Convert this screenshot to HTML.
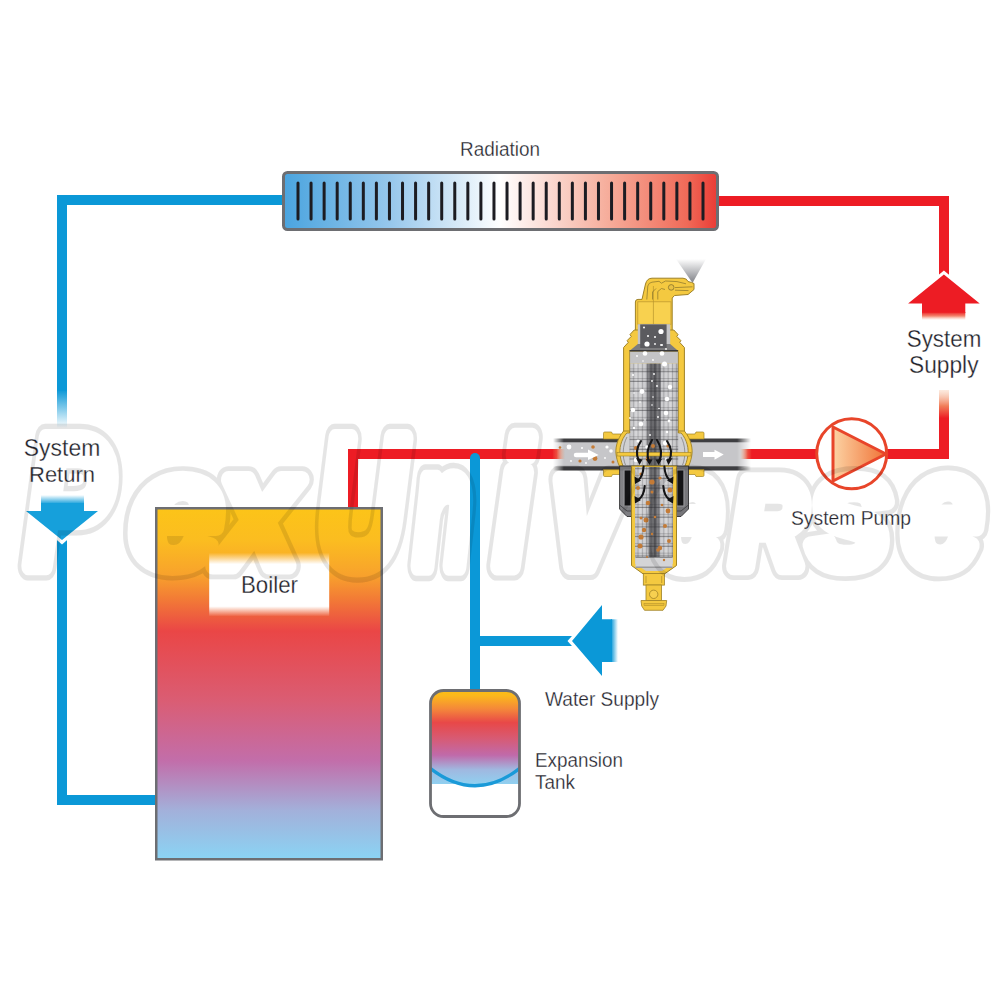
<!DOCTYPE html>
<html><head><meta charset="utf-8">
<style>
html,body{margin:0;padding:0;background:#fff;}
body{width:1000px;height:1000px;overflow:hidden;position:relative;}
svg{position:absolute;left:0;top:0;}
.lbl{font-family:"Liberation Sans",sans-serif;fill:#23232b;stroke:#ffffff;stroke-width:0.35px;stroke-opacity:0.85;}
</style></head><body>
<svg width="1000" height="1000" viewBox="0 0 1000 1000">
<defs>
  <linearGradient id="radG" x1="0" y1="0" x2="1" y2="0">
    <stop offset="0" stop-color="#4aa4df"/>
    <stop offset="0.25" stop-color="#98c8ec"/>
    <stop offset="0.5" stop-color="#ffffff"/>
    <stop offset="0.75" stop-color="#f6ac9a"/>
    <stop offset="0.93" stop-color="#f06a58"/>
    <stop offset="1" stop-color="#ea3b35"/>
  </linearGradient>
  <linearGradient id="boilG" x1="0" y1="0" x2="0" y2="1">
    <stop offset="0" stop-color="#fcc418"/>
    <stop offset="0.09" stop-color="#fbbd20"/>
    <stop offset="0.19" stop-color="#f8a22c"/>
    <stop offset="0.26" stop-color="#f27a36"/>
    <stop offset="0.35" stop-color="#ea4646"/>
    <stop offset="0.55" stop-color="#da5d74"/>
    <stop offset="0.72" stop-color="#c26eaa"/>
    <stop offset="0.86" stop-color="#a3b0da"/>
    <stop offset="1" stop-color="#8ad4f4"/>
  </linearGradient>
  <linearGradient id="tankG" x1="0" y1="0" x2="0" y2="1">
    <stop offset="0" stop-color="#fcc010"/>
    <stop offset="0.08" stop-color="#fbb81c"/>
    <stop offset="0.22" stop-color="#f4873a"/>
    <stop offset="0.36" stop-color="#e84848"/>
    <stop offset="0.52" stop-color="#d85a72"/>
    <stop offset="0.7" stop-color="#c06aaa"/>
    <stop offset="0.85" stop-color="#a0b8e0"/>
    <stop offset="1" stop-color="#90d0f0"/>
  </linearGradient>
  <linearGradient id="fadeDownBlue" x1="0" y1="0" x2="0" y2="1">
    <stop offset="0" stop-color="#0b98d7" stop-opacity="1"/>
    <stop offset="1" stop-color="#0b98d7" stop-opacity="0"/>
  </linearGradient>
  <linearGradient id="fadeUpRed" x1="0" y1="1" x2="0" y2="0">
    <stop offset="0" stop-color="#ed1c24" stop-opacity="1"/>
    <stop offset="0.12" stop-color="#ed1c24" stop-opacity="1"/>
    <stop offset="0.5" stop-color="#f07650" stop-opacity="0.95"/>
    <stop offset="1" stop-color="#f9d2b8" stop-opacity="0.45"/>
  </linearGradient>
  <linearGradient id="fadeArrowRed" x1="0" y1="0" x2="0" y2="1">
    <stop offset="0" stop-color="#ed1c24" stop-opacity="1"/>
    <stop offset="0.5" stop-color="#ef5a3c" stop-opacity="0.75"/>
    <stop offset="1" stop-color="#f7a080" stop-opacity="0"/>
  </linearGradient>
  <linearGradient id="pumpTri" x1="0" y1="0" x2="1" y2="0">
    <stop offset="0" stop-color="#fcd3a4"/>
    <stop offset="1" stop-color="#f07236"/>
  </linearGradient>
  <linearGradient id="sprayG" x1="0" y1="0" x2="0" y2="1">
    <stop offset="0" stop-color="#ffffff"/>
    <stop offset="1" stop-color="#8a8a8e"/>
  </linearGradient>
  <linearGradient id="labelFade" x1="0" y1="0" x2="0" y2="1">
    <stop offset="0" stop-color="#fff" stop-opacity="0"/>
    <stop offset="0.18" stop-color="#fff" stop-opacity="1"/>
    <stop offset="0.84" stop-color="#fff" stop-opacity="1"/>
    <stop offset="1" stop-color="#fff" stop-opacity="0"/>
  </linearGradient>
  <linearGradient id="fadeDownBlue16" x1="0" y1="0" x2="0" y2="1">
    <stop offset="0" stop-color="#16a0db" stop-opacity="1"/>
    <stop offset="1" stop-color="#16a0db" stop-opacity="0"/>
  </linearGradient>
  <linearGradient id="fadeRightBlue" x1="0" y1="0" x2="1" y2="0">
    <stop offset="0" stop-color="#0b98d7" stop-opacity="1"/>
    <stop offset="1" stop-color="#0b98d7" stop-opacity="0"/>
  </linearGradient>
</defs>

<!-- ===== PIPES ===== -->
<g id="pipes">
  <!-- blue return loop -->
  <rect x="57" y="195" width="226" height="10" fill="#0b98d7"/>
  <rect x="57" y="195" width="10" height="196" fill="#0b98d7"/>
  <rect x="57" y="390" width="10" height="38" fill="url(#fadeDownBlue)"/>
  <rect x="57" y="545" width="10" height="260" fill="#0b98d7"/>
  <rect x="57" y="795" width="100" height="10" fill="#0b98d7"/>
  <!-- red supply -->
  <rect x="718" y="196" width="231" height="10" fill="#ed1c24"/>
  <rect x="939" y="196" width="10" height="94" fill="#ed1c24"/>
  <rect x="939" y="390" width="10" height="32" fill="url(#fadeUpRed)"/>
  <rect x="939" y="421" width="10" height="38" fill="#ed1c24"/>
  <rect x="880" y="449" width="69" height="10" fill="#ed1c24"/>
  <rect x="751" y="449" width="66" height="10" fill="#ed1c24"/>
  <!-- boiler supply -->
  <rect x="348" y="449" width="205" height="10" fill="#ed1c24"/>
  <rect x="348" y="449" width="10" height="59" fill="#ed1c24"/>
  <!-- cold water branch -->
  <rect x="470" y="453" width="10" height="237" rx="5" fill="#0b98d7"/>
  <rect x="470" y="460" width="10" height="230" fill="#0b98d7"/>
  <rect x="475" y="636" width="110" height="10" fill="#0b98d7"/>
</g>

<!-- ===== RADIATOR ===== -->
<g id="radiator">
  <rect x="283.5" y="172.5" width="434" height="57" rx="4" fill="url(#radG)" stroke="#6d6e72" stroke-width="3"/>
  <g stroke="#1c1c22" stroke-width="3" stroke-linecap="round"><line x1="298.00" y1="183" x2="298.00" y2="219"/><line x1="311.06" y1="183" x2="311.06" y2="219"/><line x1="324.13" y1="183" x2="324.13" y2="219"/><line x1="337.19" y1="183" x2="337.19" y2="219"/><line x1="350.26" y1="183" x2="350.26" y2="219"/><line x1="363.32" y1="183" x2="363.32" y2="219"/><line x1="376.39" y1="183" x2="376.39" y2="219"/><line x1="389.45" y1="183" x2="389.45" y2="219"/><line x1="402.52" y1="183" x2="402.52" y2="219"/><line x1="415.58" y1="183" x2="415.58" y2="219"/><line x1="428.65" y1="183" x2="428.65" y2="219"/><line x1="441.71" y1="183" x2="441.71" y2="219"/><line x1="454.77" y1="183" x2="454.77" y2="219"/><line x1="467.84" y1="183" x2="467.84" y2="219"/><line x1="480.90" y1="183" x2="480.90" y2="219"/><line x1="493.97" y1="183" x2="493.97" y2="219"/><line x1="507.03" y1="183" x2="507.03" y2="219"/><line x1="520.10" y1="183" x2="520.10" y2="219"/><line x1="533.16" y1="183" x2="533.16" y2="219"/><line x1="546.23" y1="183" x2="546.23" y2="219"/><line x1="559.29" y1="183" x2="559.29" y2="219"/><line x1="572.35" y1="183" x2="572.35" y2="219"/><line x1="585.42" y1="183" x2="585.42" y2="219"/><line x1="598.48" y1="183" x2="598.48" y2="219"/><line x1="611.55" y1="183" x2="611.55" y2="219"/><line x1="624.61" y1="183" x2="624.61" y2="219"/><line x1="637.68" y1="183" x2="637.68" y2="219"/><line x1="650.74" y1="183" x2="650.74" y2="219"/><line x1="663.81" y1="183" x2="663.81" y2="219"/><line x1="676.87" y1="183" x2="676.87" y2="219"/><line x1="689.94" y1="183" x2="689.94" y2="219"/><line x1="703.00" y1="183" x2="703.00" y2="219"/></g>
</g>
<text class="lbl" x="460" y="155.8" font-size="20" textLength="80" lengthAdjust="spacingAndGlyphs">Radiation</text>

<!-- ===== SYSTEM RETURN ===== -->
<text class="lbl" x="23.8" y="455.5" font-size="23.2" textLength="76.5" lengthAdjust="spacingAndGlyphs">System</text>
<text class="lbl" x="29" y="481.8" font-size="22.8" textLength="66" lengthAdjust="spacingAndGlyphs">Return</text>
<g id="retArrow">
  <rect x="57" y="530" width="10" height="20" fill="#0b98d7"/>
  <polygon points="20,508 104,508 62,544.5" fill="#fff"/>
  <polygon points="41,503 84,503 84,511 98,511 62,540 26,511 41,511" fill="#16a0db"/>
  <rect x="41" y="495" width="43" height="9" fill="url(#fadeDownBlue16)" transform="rotate(180 62.5 499.5)"/>
</g>

<!-- ===== SYSTEM SUPPLY ===== -->
<polygon points="943.9,270.5 986,305.5 901.8,305.5" fill="#fff"/>
<polygon points="943.9,274.4 979.7,303.6 965.3,303.6 965.3,313 922,313 922,303.6 908.1,303.6" fill="#ed1c24"/>
<rect x="922" y="312" width="43.3" height="8" fill="url(#fadeArrowRed)"/>
<text class="lbl" x="906.8" y="346.5" font-size="23.2" textLength="74.5" lengthAdjust="spacingAndGlyphs">System</text>
<text class="lbl" x="909" y="372.8" font-size="23" textLength="69.5" lengthAdjust="spacingAndGlyphs">Supply</text>

<!-- ===== BOILER ===== -->
<rect x="156.25" y="508.25" width="225.5" height="351" fill="url(#boilG)" stroke="#6d6e72" stroke-width="2.5"/>
<rect x="209.2" y="552.7" width="120" height="63.8" fill="url(#labelFade)"/>
<text class="lbl" x="241" y="593" font-size="23.8" textLength="57" lengthAdjust="spacingAndGlyphs">Boiler</text>

<!-- ===== EXPANSION TANK ===== -->
<g id="tank">
  <clipPath id="tankClip"><rect x="430.5" y="690.5" width="88.5" height="125.5" rx="13"/></clipPath>
  <g clip-path="url(#tankClip)">
    <rect x="428" y="688" width="95" height="96" fill="url(#tankG)"/>
    <path d="M428,766.5 Q475,805 522,766.5" fill="none" stroke="#1a9ad8" stroke-width="3.2"/>
  </g>
  <rect x="430.5" y="690.5" width="89" height="126" rx="13" fill="none" stroke="#6d6e72" stroke-width="2.8"/>
</g>
<text class="lbl" x="535" y="766.8" font-size="19.5" textLength="88" lengthAdjust="spacingAndGlyphs">Expansion</text>
<text class="lbl" x="535" y="788.5" font-size="19.5" textLength="40" lengthAdjust="spacingAndGlyphs">Tank</text>

<!-- ===== WATER SUPPLY ARROW ===== -->
<polygon points="567.5,641 604,600 604,682" fill="#fff"/>
<polygon points="572,641 602,605 602,619.3 612,619.3 612,662 602,662 602,676" fill="#0b98d7"/>
<rect x="611" y="619.3" width="7" height="42.7" fill="url(#fadeRightBlue)"/>
<text class="lbl" x="545" y="705.9" font-size="19.8" textLength="114" lengthAdjust="spacingAndGlyphs">Water Supply</text>

<!-- ===== PUMP ===== -->
<circle cx="851.7" cy="453.8" r="35" fill="#fff" stroke="#e8452a" stroke-width="3"/>
<polygon points="833,427 886,454 833,481" fill="url(#pumpTri)" stroke="#e8452a" stroke-width="3" stroke-linejoin="round"/>
<text class="lbl" x="791" y="525" font-size="20.5" textLength="120" lengthAdjust="spacingAndGlyphs">System Pump</text>

<!-- ===== VALVE ===== -->
<g id="valve">
<defs>
  <linearGradient id="pipeMaskG" x1="553" y1="0" x2="751" y2="0" gradientUnits="userSpaceOnUse">
    <stop offset="0" stop-color="#fff" stop-opacity="0"/>
    <stop offset="0.055" stop-color="#fff" stop-opacity="1"/>
    <stop offset="0.93" stop-color="#fff" stop-opacity="1"/>
    <stop offset="1" stop-color="#fff" stop-opacity="0"/>
  </linearGradient>
  <mask id="pipeMask" maskUnits="userSpaceOnUse" x="540" y="420" width="230" height="70">
    <rect x="540" y="420" width="230" height="70" fill="url(#pipeMaskG)"/>
  </mask>
  <linearGradient id="redInL" x1="552" y1="0" x2="565" y2="0" gradientUnits="userSpaceOnUse">
    <stop offset="0" stop-color="#ed1c24" stop-opacity="1"/>
    <stop offset="0.35" stop-color="#ed3a2a" stop-opacity="0.9"/>
    <stop offset="1" stop-color="#e88a50" stop-opacity="0"/>
  </linearGradient>
  <linearGradient id="redInR" x1="740" y1="0" x2="752" y2="0" gradientUnits="userSpaceOnUse">
    <stop offset="0" stop-color="#e88a50" stop-opacity="0"/>
    <stop offset="0.65" stop-color="#ed3a2a" stop-opacity="0.9"/>
    <stop offset="1" stop-color="#ed1c24" stop-opacity="1"/>
  </linearGradient>
  <linearGradient id="gridG" x1="0" y1="0" x2="1" y2="0">
    <stop offset="0" stop-color="#bdbdc0"/>
    <stop offset="0.15" stop-color="#d2d2d4"/>
    <stop offset="0.35" stop-color="#c4c4c7"/>
    <stop offset="0.365" stop-color="#7a7a7e"/>
    <stop offset="0.5" stop-color="#505054"/>
    <stop offset="0.635" stop-color="#7a7a7e"/>
    <stop offset="0.65" stop-color="#c4c4c7"/>
    <stop offset="0.85" stop-color="#d2d2d4"/>
    <stop offset="1" stop-color="#b4b4b7"/>
  </linearGradient>
  <pattern id="gridV" x="629" y="0" width="4.3" height="10" patternUnits="userSpaceOnUse">
    <rect x="0" y="0" width="0.8" height="10" fill="#3c3c40" fill-opacity="0.28"/>
    <rect x="2" y="0" width="1.2" height="10" fill="#fff" fill-opacity="0.18"/>
  </pattern>
  <pattern id="gridH" x="0" y="363.5" width="10" height="9.7" patternUnits="userSpaceOnUse">
    <rect x="0" y="7.6" width="10" height="0.9" fill="#2a2a2e" fill-opacity="0.6"/>
    <rect x="0" y="5.2" width="10" height="0.7" fill="#2a2a2e" fill-opacity="0.35"/>
  </pattern>
  <linearGradient id="sprayG2" x1="0" y1="259" x2="0" y2="283" gradientUnits="userSpaceOnUse"><stop offset="0" stop-color="#fff"/><stop offset="1" stop-color="#7e8086"/></linearGradient>
  <linearGradient id="sleeveG" x1="0" y1="0" x2="1" y2="0">
    <stop offset="0" stop-color="#858589"/><stop offset="0.5" stop-color="#68686c"/><stop offset="1" stop-color="#78787c"/>
  </linearGradient>
</defs>
<g mask="url(#pipeMask)">
<rect x="553" y="438.5" width="198" height="32" fill="#3e3e41"/>
<rect x="553" y="442.3" width="198" height="24" fill="#c6c6c9"/>
</g>
<rect x="547" y="449" width="18" height="10" fill="url(#redInL)"/>
<rect x="740" y="449" width="14" height="10" fill="url(#redInR)"/>
<circle cx="569" cy="447" r="2.4" fill="#fff"/>
<circle cx="582" cy="448" r="1" fill="#fff"/>
<circle cx="593" cy="447" r="1.8" fill="#c47b36"/>
<circle cx="607" cy="447" r="1.6" fill="#fff"/>
<circle cx="611" cy="451" r="1.8" fill="#fff"/>
<circle cx="560" cy="447.5" r="1.3" fill="#c47b36"/>
<circle cx="580" cy="461" r="1.6" fill="#c47b36"/>
<circle cx="595" cy="458.5" r="2.4" fill="#c47b36"/>
<circle cx="571" cy="461" r="0.9" fill="#fff"/>
<circle cx="586" cy="463" r="0.9" fill="#fff"/>
<circle cx="613" cy="462" r="1.5" fill="#c47b36"/>
<circle cx="605" cy="458" r="0.9" fill="#fff"/>
<path d="M576,455 L590,455" stroke="#fff" stroke-width="4.5" stroke-linecap="round"/><polygon points="588,449.6 598.6,455 588,460" fill="#fff"/>
<rect x="703" y="452" width="12" height="5" fill="#fff"/><polygon points="714.5,449.8 723.7,454.5 714.5,459.7" fill="#fff"/>
<path d="M603.5,433.2 Q603.5,432 604.7,432 L611.5,432 L612.5,434 L621,434 L621,439 L603.5,439 Z" fill="#f4c940" stroke="#9f8227" stroke-width="0.7"/>
<path d="M603.5,469.5 L621,469.5 L621,474.5 L612.5,474.5 L611.5,476.5 L604.7,476.5 Q603.5,476.5 603.5,475.3 Z" fill="#f4c940" stroke="#9f8227" stroke-width="0.7"/>
<path d="M704,433.2 Q704,432 702.8,432 L696,432 L695,434 L687,434 L687,439 L704,439 Z" fill="#f4c940" stroke="#9f8227" stroke-width="0.7"/>
<path d="M704,469.5 L687,469.5 L687,474.5 L695,474.5 L696,476.5 L702.8,476.5 Q704,476.5 704,475.3 Z" fill="#f4c940" stroke="#9f8227" stroke-width="0.7"/>
<polygon points="676,259 706,259 692.5,283" fill="url(#sprayG2)"/>
<path d="M635.4,336 L635.4,302 Q635.4,299.4 638,299.4 L642,299.4 L645.5,284 Q647,278.2 652,278.2 L683,278.2 Q687,278.5 688,281.5 L691.5,282.5 L694,283.5 L694,289.5 L688,294.5 L674.5,295.5 L672.2,298 L672.2,336 Z" fill="#f4c940" stroke="#9f8227" stroke-width="1"/>
<rect x="637.8" y="301.8" width="33.2" height="22.5" fill="#f8d14f" stroke="#c09a30" stroke-width="0.8"/>
<line x1="653.4" y1="286" x2="653.4" y2="324" stroke="#b8942e" stroke-width="0.7"/>
<path d="M646.8,299.5 L647.8,286 Q648.6,282.6 652,282.2 L659,281.3 L661.5,283.2 L665.5,281 L677,281.6 L686,283.8 M657.8,299.5 L657.8,291.5 L661.5,288.5 L665,289.5 M675,287.6 L692.5,286.8 M675,290.2 L688.5,290.6 M652.5,299.5 L652.5,292 L656,288.5" fill="none" stroke="#86722c" stroke-width="0.7"/><circle cx="671.2" cy="287.4" r="2.8" fill="#e9c143" stroke="#86722c" stroke-width="0.8"/>
<path d="M634.2,330 L630,334.5 L631.2,336.5 L627.2,340.5 L628.2,342.5 L623.6,347.5 L623.6,433 L684.4,433 L684.4,347.5 L679.8,342.5 L680.8,340.5 L676.8,336.5 L678,334.5 L673.8,330 Z" fill="#f4c940" stroke="#9f8227" stroke-width="1"/>
<rect x="637.8" y="324.2" width="32.4" height="27" fill="#c4c4c6"/>
<polygon points="629.4,351 637.8,344 670.2,344 678.2,351" fill="#7c7c7e"/>
<rect x="640.2" y="324.4" width="26.4" height="23.6" fill="#5b5b5f"/>
<rect x="629.4" y="350.3" width="48.8" height="1.4" fill="#1c1c1e"/>
<rect x="629.4" y="351.7" width="48.8" height="12" fill="#c4c4c6"/>
<path d="M624.5,432 C619.5,440 618.5,450 619.5,456 C620.2,460 621.5,463 623,467 L685,467 C686.5,463 687.8,460 688.5,456 C689.5,450 688.5,440 683.5,432 Z" fill="#d0d0d2"/>
<rect x="629.6" y="363.6" width="48.6" height="103.4" fill="url(#gridG)"/>
<rect x="629.6" y="363.6" width="48.6" height="103.4" fill="url(#gridV)"/>
<rect x="629.6" y="363.6" width="48.6" height="103.4" fill="url(#gridH)"/>
<line x1="629.6" y1="352" x2="629.6" y2="433" stroke="#9f8227" stroke-width="0.8"/><line x1="678.4" y1="352" x2="678.4" y2="433" stroke="#9f8227" stroke-width="0.8"/>
<path d="M627,437 C622.5,445 622,457 625.5,465 M681,437 C685.5,445 686,457 682.5,465" fill="none" stroke="#6a6a6c" stroke-width="0.6"/>
<path d="M623.6,431 C617,439 614.8,449 616.3,456 C617.2,461 618.5,464.5 620.3,468 L624,468 C622.3,464.5 621,461 620.2,456 C619,449 620.8,440 626.8,433 L629.6,433 L629.6,431 Z" fill="#f4c940" stroke="#9f8227" stroke-width="0.9"/>
<path d="M684.4,431 C691,439 693.2,449 691.7,456 C690.8,461 689.5,464.5 687.7,468 L684,468 C685.7,464.5 687,461 687.8,456 C689,449 687.2,440 681.2,433 L678.4,433 L678.4,431 Z" fill="#f4c940" stroke="#9f8227" stroke-width="0.9"/>
<rect x="617" y="452.4" width="74" height="3.6" fill="#f4c940" stroke="#9f8227" stroke-width="0.6"/>
<path d="M619.6,466 L688.5,466 L688.5,509 L681,516.5 L627,516.5 L619.6,509 Z" fill="url(#sleeveG)" stroke="#2f2f31" stroke-width="0.9"/>
<path d="M619.6,505 L627,511 L681,511 L688.5,505" fill="none" stroke="#3a3a3c" stroke-width="0.8"/>
<rect x="623.5" y="469.5" width="8.2" height="37" fill="#9a9a9e"/><rect x="624.6" y="470.5" width="6" height="35" fill="#141416"/>
<rect x="676.3" y="469.5" width="8.2" height="37" fill="#9a9a9e"/><rect x="677.4" y="470.5" width="6" height="35" fill="#141416"/>
<path d="M631.5,466 L676.5,466 L676.5,565.5 L664.4,574 L643.3,574 L631.5,565.5 Z" fill="#f4c940" stroke="#9f8227" stroke-width="1"/>
<path d="M635,467 L673,467 L673,563.5 L662,571 L646,571 L635,563.5 Z" fill="#c8c8ca"/>
<rect x="635" y="467" width="38" height="90.5" fill="url(#gridG)"/>
<rect x="635" y="467" width="38" height="90.5" fill="url(#gridV)"/>
<rect x="635" y="467" width="38" height="90.5" fill="url(#gridH)"/>
<rect x="635.5" y="557.5" width="37" height="10" fill="#d4d4d6"/>
<rect x="635.5" y="566.5" width="37" height="1.5" fill="#9a9a9c"/>
<rect x="635.5" y="557" width="37" height="1" fill="#8a8a8c"/>
<rect x="643.3" y="573.6" width="21.1" height="11.5" fill="#f4c940" stroke="#9f8227" stroke-width="0.8"/>
<path d="M646,576 L646,583 M661.7,576 L661.7,583" stroke="#9f8227" stroke-width="0.6"/>
<rect x="646" y="585" width="15.5" height="15.5" fill="#f4c940" stroke="#9f8227" stroke-width="0.8"/>
<circle cx="653.7" cy="594.3" r="4.2" fill="#f7d050" stroke="#9f8227" stroke-width="0.8"/>
<path d="M641,600.5 L666.7,600.5 L666,606 L663,610.3 L644.5,610.3 L641.7,606 Z" fill="#f4c940" stroke="#9f8227" stroke-width="0.8"/>
<rect x="644" y="603.5" width="20" height="2.2" fill="#e8bc38" stroke="#9f8227" stroke-width="0.4"/>
<circle cx="661" cy="331.5" r="2.6" fill="#fff"/>
<circle cx="644" cy="327.5" r="1" fill="#fff"/>
<circle cx="648" cy="336" r="1" fill="#fff"/>
<circle cx="655" cy="337" r="1" fill="#fff"/>
<circle cx="647" cy="344" r="2.6" fill="#fff"/>
<circle cx="655" cy="344" r="0.9" fill="#fff"/>
<circle cx="662" cy="345" r="1" fill="#fff"/>
<circle cx="661" cy="345" r="0.9" fill="#fff"/>
<circle cx="666" cy="349" r="0.9" fill="#fff"/>
<circle cx="645" cy="353.5" r="2.3" fill="#fff"/>
<circle cx="662" cy="353.5" r="2.3" fill="#fff"/>
<circle cx="637" cy="356" r="0.9" fill="#fff"/>
<circle cx="653" cy="360" r="0.9" fill="#fff"/>
<circle cx="643" cy="361" r="0.8" fill="#fff"/>
<circle cx="664.5" cy="364" r="2.5" fill="#fff"/>
<circle cx="633" cy="375" r="1" fill="#fff"/>
<circle cx="654" cy="374" r="0.9" fill="#fff"/>
<circle cx="652" cy="381" r="0.9" fill="#fff"/>
<circle cx="657" cy="386" r="0.9" fill="#fff"/>
<circle cx="670" cy="387" r="2.2" fill="#fff"/>
<circle cx="642" cy="391.5" r="2.4" fill="#fff"/>
<circle cx="634" cy="393" r="0.8" fill="#fff"/>
<circle cx="653" cy="397" r="0.8" fill="#fff"/>
<circle cx="667" cy="399" r="2.3" fill="#fff"/>
<circle cx="640" cy="402" r="0.8" fill="#fff"/>
<circle cx="652" cy="405" r="0.8" fill="#fff"/>
<circle cx="633" cy="410" r="2.3" fill="#fff"/>
<circle cx="659" cy="408.5" r="0.8" fill="#fff"/>
<circle cx="666" cy="413" r="2.3" fill="#fff"/>
<circle cx="630" cy="418" r="0.9" fill="#fff"/>
<circle cx="645" cy="420" r="0.8" fill="#fff"/>
<circle cx="658" cy="417" r="0.9" fill="#fff"/>
<circle cx="669" cy="421" r="1.4" fill="#fff"/>
<circle cx="641" cy="424" r="2.3" fill="#fff"/>
<circle cx="634" cy="428" r="1.2" fill="#fff"/>
<circle cx="667" cy="432" r="1.2" fill="#fff"/>
<circle cx="650" cy="435" r="0.9" fill="#fff"/>
<circle cx="638" cy="441" r="1.5" fill="#fff"/>
<circle cx="647" cy="447" r="1.8" fill="#fff"/>
<circle cx="665" cy="443" r="2.2" fill="#fff"/>
<circle cx="636" cy="460" r="2.3" fill="#fff"/>
<circle cx="666" cy="459" r="1" fill="#fff"/>
<circle cx="652" cy="482" r="2.6" fill="#c47b36"/>
<circle cx="668" cy="511" r="2.4" fill="#c47b36"/>
<circle cx="641" cy="537" r="2.6" fill="#c47b36"/>
<circle cx="660" cy="548" r="2.2" fill="#c47b36"/>
<circle cx="646" cy="520" r="2.5" fill="#c47b36"/>
<circle cx="636" cy="448" r="2.1" fill="#c47b36"/>
<circle cx="653" cy="446" r="2" fill="#c47b36"/>
<circle cx="668" cy="446" r="1.6" fill="#c47b36"/>
<circle cx="648" cy="459" r="2.3" fill="#c47b36"/>
<circle cx="641" cy="474" r="1.6" fill="#c47b36"/>
<circle cx="660" cy="478" r="1.6" fill="#c47b36"/>
<circle cx="638" cy="488" r="2" fill="#c47b36"/>
<circle cx="652" cy="492" r="1.5" fill="#c47b36"/>
<circle cx="670" cy="490" r="2.5" fill="#c47b36"/>
<circle cx="648" cy="503" r="2.3" fill="#c47b36"/>
<circle cx="662" cy="505" r="1.3" fill="#c47b36"/>
<circle cx="641" cy="518" r="1.5" fill="#c47b36"/>
<circle cx="655" cy="517" r="1.3" fill="#c47b36"/>
<circle cx="665" cy="526" r="2" fill="#c47b36"/>
<circle cx="644" cy="530" r="2.2" fill="#c47b36"/>
<circle cx="652" cy="534" r="1.2" fill="#c47b36"/>
<circle cx="669" cy="541" r="2" fill="#c47b36"/>
<circle cx="640" cy="546" r="2.5" fill="#c47b36"/>
<circle cx="658" cy="550" r="1.8" fill="#c47b36"/>
<circle cx="647" cy="557" r="1" fill="#c47b36"/>
<circle cx="664" cy="560" r="1.2" fill="#c47b36"/>
<g fill="none" stroke="#141416" stroke-width="2.1" stroke-linecap="round">
<path d="M641,441 Q634,451 639,461"/><path d="M652,440 Q645,451 649,462"/><path d="M657,440 Q664,451 659,462"/><path d="M667,441 Q674,451 669,461"/>
<path d="M643.6,466.5 Q643,476 638.5,480"/><path d="M664.4,466.5 Q665,476 669.5,480"/>
<path d="M644.7,486 Q644,496 638.5,499.5"/><path d="M663.3,486 Q664,496 669.5,499.5"/>
</g>
<g fill="#141416"><polygon points="636,458 642.5,459.5 639.5,465"/><polygon points="646,459 652.5,459.5 649.5,465"/><polygon points="655.5,459.5 662,459 658.5,465"/><polygon points="666,459.5 672.5,458 668.5,465"/><polygon points="634.5,476.5 641,480.5 635,484"/><polygon points="667,480.5 673.5,476.5 673,484"/><polygon points="634.5,496 641,500 635,503.5"/><polygon points="667,500 673.5,496 673,503.5"/></g>
</g>

<!-- ===== WATERMARK ===== -->
<defs>
<mask id="wmMask" maskUnits="userSpaceOnUse" x="0" y="380" width="1000" height="240">
  <g font-family="Liberation Sans" font-weight="bold" font-style="italic" stroke-linejoin="round">
<text transform="translate(25.5,565.5) scale(0.699,1)" font-size="186.0" fill="#fff" stroke="#fff" stroke-width="25.0" vector-effect="non-scaling-stroke">P</text>
<text transform="translate(130.5,565.5) scale(1.011,1)" font-size="163.8" fill="#fff" stroke="#fff" stroke-width="25.0" vector-effect="non-scaling-stroke">e</text>
<text transform="translate(218.8,565.5) scale(0.865,1)" font-size="163.8" fill="#fff" stroke="#fff" stroke-width="25.0" vector-effect="non-scaling-stroke">x</text>
<text transform="translate(317.5,565.5) scale(0.651,1)" font-size="186.0" fill="#fff" stroke="#fff" stroke-width="25.0" vector-effect="non-scaling-stroke">U</text>
<text transform="translate(414.5,565.5) scale(0.570,1)" font-size="163.8" fill="#fff" stroke="#fff" stroke-width="25.0" vector-effect="non-scaling-stroke">n</text>
<text transform="translate(494.5,565.5) scale(0.720,1)" font-size="178.8" fill="#fff" stroke="#fff" stroke-width="25.0" vector-effect="non-scaling-stroke">i</text>
<text transform="translate(552.5,565.5) scale(0.759,1)" font-size="163.8" fill="#fff" stroke="#fff" stroke-width="25.0" vector-effect="non-scaling-stroke">v</text>
<text transform="translate(652.5,565.5) scale(0.769,1)" font-size="163.8" fill="#fff" stroke="#fff" stroke-width="25.0" vector-effect="non-scaling-stroke">e</text>
<text transform="translate(731.5,565.5) scale(0.829,1)" font-size="123.5" fill="#fff" stroke="#fff" stroke-width="25.0" vector-effect="non-scaling-stroke">R</text>
<text transform="translate(808.5,565.5) scale(0.923,1)" font-size="163.8" fill="#fff" stroke="#fff" stroke-width="25.0" vector-effect="non-scaling-stroke">s</text>
<text transform="translate(902.5,565.5) scale(0.879,1)" font-size="163.8" fill="#fff" stroke="#fff" stroke-width="25.0" vector-effect="non-scaling-stroke">e</text>
<text transform="translate(25.5,565.5) scale(0.699,1)" font-size="186.0" fill="#000" stroke="#000" stroke-width="16.0" vector-effect="non-scaling-stroke">P</text>
<text transform="translate(130.5,565.5) scale(1.011,1)" font-size="163.8" fill="#000" stroke="#000" stroke-width="16.0" vector-effect="non-scaling-stroke">e</text>
<text transform="translate(218.8,565.5) scale(0.865,1)" font-size="163.8" fill="#000" stroke="#000" stroke-width="16.0" vector-effect="non-scaling-stroke">x</text>
<text transform="translate(317.5,565.5) scale(0.651,1)" font-size="186.0" fill="#000" stroke="#000" stroke-width="16.0" vector-effect="non-scaling-stroke">U</text>
<text transform="translate(414.5,565.5) scale(0.570,1)" font-size="163.8" fill="#000" stroke="#000" stroke-width="16.0" vector-effect="non-scaling-stroke">n</text>
<text transform="translate(494.5,565.5) scale(0.720,1)" font-size="178.8" fill="#000" stroke="#000" stroke-width="16.0" vector-effect="non-scaling-stroke">i</text>
<text transform="translate(552.5,565.5) scale(0.759,1)" font-size="163.8" fill="#000" stroke="#000" stroke-width="16.0" vector-effect="non-scaling-stroke">v</text>
<text transform="translate(652.5,565.5) scale(0.769,1)" font-size="163.8" fill="#000" stroke="#000" stroke-width="16.0" vector-effect="non-scaling-stroke">e</text>
<text transform="translate(731.5,565.5) scale(0.829,1)" font-size="123.5" fill="#000" stroke="#000" stroke-width="16.0" vector-effect="non-scaling-stroke">R</text>
<text transform="translate(808.5,565.5) scale(0.923,1)" font-size="163.8" fill="#000" stroke="#000" stroke-width="16.0" vector-effect="non-scaling-stroke">s</text>
<text transform="translate(902.5,565.5) scale(0.879,1)" font-size="163.8" fill="#000" stroke="#000" stroke-width="16.0" vector-effect="non-scaling-stroke">e</text>
  </g>
</mask>
</defs>
<rect x="0" y="380" width="1000" height="240" fill="#000" fill-opacity="0.1" mask="url(#wmMask)"/>
</svg>
</body></html>
